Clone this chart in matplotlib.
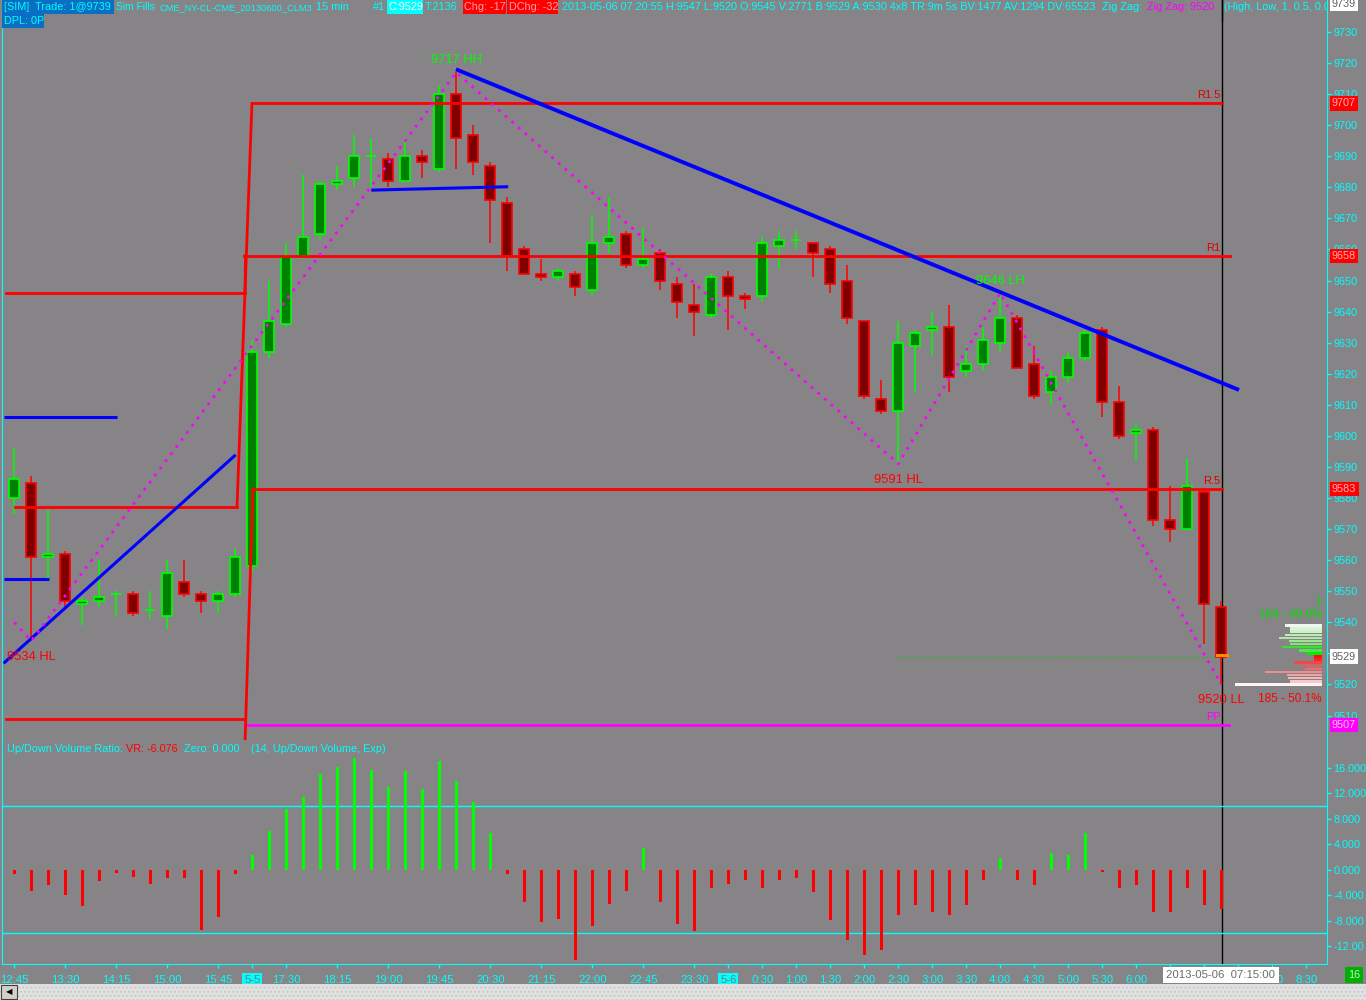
import matplotlib
matplotlib.use("Agg")
import matplotlib.pyplot as plt
from matplotlib.patches import Rectangle
from datetime import datetime, timedelta

plt.rcParams['font.family'] = ['Liberation Sans', 'DejaVu Sans']

# 15 min CL bars (prices in cents)
opens = [9580, 9585, 9561, 9562, 9546, 9547, 9549, 9549, 9544, 9542, 9553, 9549, 9547, 9549,
         9558, 9627, 9636, 9658, 9665, 9681, 9683, 9690, 9689, 9682, 9690, 9686, 9710, 9697,
         9687, 9675, 9660, 9652, 9651, 9652, 9647, 9662, 9665, 9655, 9659, 9649, 9642, 9639,
         9651, 9645, 9645, 9661, 9663, 9662, 9660, 9650, 9637, 9612, 9608, 9629, 9634, 9635,
         9621, 9623, 9630, 9638, 9623, 9614, 9619, 9625, 9634, 9611, 9601, 9602, 9573, 9570,
         9582, 9545]
highs = [9596, 9587, 9576, 9563, 9548, 9560, 9550, 9550, 9550, 9560, 9560, 9550, 9550, 9564,
         9631, 9650, 9662, 9684, 9682, 9687, 9697, 9696, 9691, 9696, 9692, 9713, 9717, 9700,
         9688, 9677, 9661, 9657, 9654, 9653, 9671, 9677, 9666, 9667, 9660, 9651, 9649, 9652,
         9653, 9646, 9664, 9666, 9666, 9662, 9661, 9655, 9637, 9618, 9637, 9634, 9640, 9642,
         9629, 9635, 9646, 9639, 9629, 9621, 9627, 9634, 9635, 9616, 9604, 9603, 9584, 9593,
         9583, 9547]
lows = [9575, 9534, 9554, 9545, 9539, 9545, 9542, 9542, 9541, 9538, 9548, 9543, 9543, 9548,
        9556, 9625, 9635, 9657, 9663, 9679, 9680, 9680, 9680, 9682, 9683, 9685, 9686, 9684,
        9662, 9653, 9652, 9650, 9650, 9645, 9645, 9659, 9654, 9654, 9647, 9638, 9632, 9638,
        9634, 9641, 9643, 9654, 9660, 9651, 9646, 9636, 9612, 9607, 9591, 9614, 9626, 9614,
        9619, 9621, 9627, 9622, 9612, 9610, 9617, 9624, 9606, 9599, 9592, 9571, 9566, 9570,
        9533, 9520]
closes = [9586, 9561, 9562, 9547, 9547, 9548, 9549, 9543, 9544, 9556, 9549, 9547, 9549, 9561,
          9627, 9637, 9658, 9664, 9681, 9682, 9690, 9690, 9682, 9690, 9688, 9710, 9696, 9688,
          9676, 9658, 9652, 9651, 9653, 9648, 9662, 9664, 9655, 9657, 9650, 9643, 9640, 9651,
          9645, 9644, 9662, 9663, 9663, 9659, 9649, 9638, 9613, 9608, 9630, 9633, 9635, 9619,
          9623, 9631, 9638, 9622, 9613, 9619, 9625, 9633, 9611, 9600, 9602, 9573, 9570, 9584,
          9546, 9529]

# Up/Down Volume Ratio
vol_ratio = [-0.7, -3.3, -2.4, -3.9, -5.7, -1.7, -0.5, -1.1, -2.3, -1.3, -1.3, -9.5, -7.5, -0.7,
             2.3, 6.0, 9.6, 11.4, 15.1, 16.1, 17.5, 15.7, 13.0, 15.5, 12.6, 17.0, 13.9, 10.6,
             5.8, -0.7, -5.1, -8.2, -7.8, -14.2, -8.8, -5.4, -3.3, 3.4, -5.1, -8.6, -9.7, -2.9,
             -2.2, -1.6, -2.9, -1.6, -1.3, -3.5, -7.9, -11.0, -13.4, -12.6, -7.1, -5.5, -6.6, -7.1,
             -5.5, -1.6, 1.8, -1.6, -2.4, 2.6, 2.3, 5.8, -0.4, -2.9, -2.4, -6.6, -6.6, -2.9,
             -5.5, -6.1]

# zig zag pivots (bar index, price)
zz_idx = [0, 1, 26, 52, 58, 71]
zz_val = [9540, 9534, 9717, 9591, 9646, 9520]
zz_tags = ['', 'HL', 'HH', 'HL', 'LH', 'LL']

# daily pivots
prev_levels = [9646, 9577, 9509]
prev_start = [-0.49, 0.04, -0.49]
prev_end = [13.57, 13.1, 13.57]
piv_names = ['R1.5', 'R1', 'R.5', 'PP']
piv_vals = [9707, 9658, 9583, 9507]
piv_start = [13.98, 13.51, 14.04, 13.57]
piv_end = [71.04, 71.5, 71.04, 71.45]
piv_colors = ['#ff0000', '#ff0000', '#ff0000', '#ff00ff']
piv_links = [(13.1, 9577, 13.98, 9707), (13.57, 9646, 13.6, 9658), (13.45, 9480, 14.04, 9583)]

# drawn trendlines (bar index, price, width)
trend_lines = [(-0.63, 9526.8, 13.02, 9593.9, 2.2),
               (25.98, 9718.0, 72.04, 9614.8, 2.8),
               (21.0, 9679.1, 29.05, 9680.2, 2.2),
               (-0.63, 9606.0, 6.06, 9606.0, 2.2),
               (-0.63, 9553.9, 2.06, 9553.9, 2.2)]

# volume profile of current bar
vp_prices = [9539, 9538, 9537, 9536, 9535, 9534, 9533, 9532, 9531, 9530,
             9529, 9528, 9527, 9526, 9525, 9524, 9523, 9522, 9521, 9520]
vp_vol = [37, 32, 32, 37, 43, 33, 32, 40, 23, 15, 8, 8, 28, 23, 17, 57, 35, 34, 32, 87]
vp_colors = ['#eef8ee', '#dcf4d6', '#cdf0c6', '#bdecb4', '#aee8a2', '#9ce690', '#8ae27c',
             '#2ee62e', '#46e846', '#00ee00', '#ff1010', '#ff2020', '#f04848', '#f05a5a',
             '#f06c6c', '#f08c8c', '#f2a4a4', '#f4b6b6', '#f6c8c8', '#fff2f2']

W, H = 1366, 1000
BG = '#868486'
CY = '#00ffff'
X0, BAR = 14.3, 17.0
FS = 7.8

fig = plt.figure(figsize=(W / 100, H / 100), dpi=100)
fig.patch.set_facecolor(BG)


def fx(x):
    return x / W


def fy(y):
    return 1 - y / H


ax_p = fig.add_axes([fx(2), fy(740), (1327 - 2) / W, 740 / H])
ax_i = fig.add_axes([fx(2), fy(964), (1327 - 2) / W, (964 - 740) / H], sharex=ax_p)
xlim = ((2 - X0) / BAR, (1327 - X0) / BAR)

for ax in (ax_p, ax_i):
    ax.set_facecolor(BG)
    for s in ax.spines.values():
        s.set_visible(False)
    ax.spines['right'].set_visible(True)
    ax.spines['left'].set_visible(True)
    ax.spines['right'].set_color(CY)
    ax.spines['left'].set_color(CY)
    ax.yaxis.tick_right()
    ax.tick_params(axis='y', colors=CY, labelcolor=CY, length=3, width=1, pad=1.5, labelsize=FS)
ax_i.spines['bottom'].set_visible(True)
ax_i.spines['bottom'].set_color(CY)
ax_p.set_xlim(*xlim)
ax_p.set_ylim(9730 - 708 / 3.107, 9730 + 32 / 3.107)
ax_i.set_ylim(-(964 - 869.7) / 6.37, (869.7 - 740) / 6.37)
ax_p.tick_params(axis='x', bottom=False, labelbottom=False)

ax_p.set_yticks(range(9510, 9731, 10))
ind_ticks = [16, 12, 8, 4, 0, -4, -8, -12]
ax_i.set_yticks(ind_ticks)
ax_i.set_yticklabels([('%.3f' % v)[:6] for v in ind_ticks])

# time axis
times = [datetime(2013, 5, 3, 12, 45) + timedelta(minutes=15 * i) for i in range(14)]
times += [datetime(2013, 5, 5, 17, 0) + timedelta(minutes=15 * k) for k in range(78 - 14)]
tick_idx = [0, 3, 6, 9, 12, 14, 16, 19, 22, 25, 28, 31, 34, 37, 40, 42] + list(range(44, 78, 2))
hidden = [68, 70, 72]  # covered by the cursor date box
tick_lbl = []
for i in tick_idx:
    t = times[i]
    if i in hidden:
        tick_lbl.append('')
    elif i == 14 or (t.hour == 0 and t.minute == 0):
        tick_lbl.append(f"{t.month}-{t.day}")
    else:
        tick_lbl.append(f"{t.hour}:{t.minute:02d}")
ax_i.set_xticks(tick_idx)
ax_i.set_xticklabels(tick_lbl)
ax_i.tick_params(axis='x', colors=CY, labelcolor=CY, length=3, width=1, pad=5, labelsize=8.2)
for lb in ax_i.get_xticklabels():
    if '-' in lb.get_text():
        lb.set_bbox(dict(fc=CY, ec='none', pad=1.2))
        lb.set_color('#7a7a7a')

# cursor line
for ax in (ax_p, ax_i):
    ax.axvline(71.02, color='black', lw=1, zorder=1)
fig.add_artist(plt.Line2D([fx(1221.6)] * 2, [fy(0), fy(20)], color='black', lw=1))

# candles
for i in range(len(opens)):
    o, h, l, c = opens[i], highs[i], lows[i], closes[i]
    up = c >= o
    edge = '#00ff00' if up else '#ff0000'
    face = '#008000' if up else '#800000'
    ax_p.plot([i, i], [l, h], color=edge, lw=1.1, zorder=3, solid_capstyle='butt')
    ax_p.add_patch(Rectangle((i - 0.29, min(o, c)), 0.58, abs(c - o), fc=face, ec=edge, lw=1.2, zorder=4))
ax_p.plot([70.72, 71.32], [9529.4, 9529.4], color='#ff8c00', lw=2.2, zorder=5)

# pivots
for lv, s, e in zip(prev_levels, prev_start, prev_end):
    ax_p.plot([s, e], [lv, lv], color='#ff0000', lw=2, zorder=6)
for nm, lv, s, e, col in zip(piv_names, piv_vals, piv_start, piv_end, piv_colors):
    ax_p.plot([s, e], [lv, lv], color=col, lw=2, zorder=6)
    ax_p.annotate(nm, (70.95, lv), xytext=(0, 3), textcoords='offset pixels', ha='right', va='bottom',
                  color='#e00000' if col == '#ff0000' else col, fontsize=8, zorder=7)
for a, b, c, d in piv_links:
    ax_p.plot([a, c], [b, d], color='#ff0000', lw=2, zorder=6)

# trendlines
for a, b, c, d, w in trend_lines:
    ax_p.plot([a, c], [b, d], color='#0000ff', lw=w, zorder=7, solid_capstyle='butt')

# zigzag
ax_p.plot(zz_idx, zz_val, color='#ff00ff', lw=2, linestyle=(0, (1, 2.2)), zorder=8)
for i, v, tag in zip(zz_idx, zz_val, zz_tags):
    if not tag:
        continue
    high = tag[1] == 'H'
    ax_p.annotate(f"{v} {tag}", (i, v), xytext=(0, 6 if high else -10), textcoords='offset pixels',
                  ha='center', va='bottom' if high else 'top', fontsize=9.3,
                  color='#00ff00' if high else '#ff0000', zorder=9)

# last price dotted
ax_p.plot([52, 71.3], [closes[-1], closes[-1]], color='#00d000', lw=0.9, linestyle=(0, (1, 2)), zorder=2)

# volume profile
vp_right = (1322 - X0) / BAR
for p, v, col in zip(vp_prices, vp_vol, vp_colors):
    ax_p.barh(p, v / BAR, left=vp_right - v / BAR, height=0.8, color=col, zorder=5)
ax_p.text(vp_right, 9546.5, '1', color='#00e000', ha='right', va='center', fontsize=8.5)
ax_p.text(vp_right, 9542.5, '184 - 49.9%', color='#00e000', ha='right', va='center', fontsize=8.5)
ax_p.text(vp_right, 9515.2, '185 - 50.1%', color='#ff0000', ha='right', va='center', fontsize=8.5)

# right axis value boxes
boxes = [(9739, 'white', '#606060'), (9707, '#ff0000', '#ffb0b0'), (9658, '#ff0000', '#ffb0b0'),
         (9583, '#ff0000', '#ffb0b0'), (closes[-1], 'white', '#606060'), (9507, '#ff00ff', '#ffc0ff')]
for val, fc, tc in boxes:
    ax_p.annotate(str(val), (1, val), xycoords=('axes fraction', 'data'), xytext=(5, 0),
                  textcoords='offset pixels', ha='left', va='center', color=tc, fontsize=FS,
                  bbox=dict(boxstyle='square,pad=0.2', fc=fc, ec='none'), zorder=10)

# indicator
cols = ['#00ff00' if v > 0 else '#ff0000' for v in vol_ratio]
ax_i.bar(range(len(vol_ratio)), vol_ratio, width=0.18, color=cols, zorder=3)
ax_i.axhline(10, color=CY, lw=1, zorder=2)
ax_i.axhline(-10, color=CY, lw=1, zorder=2)


def itext(x, y, s, color):
    ax_i.text(fx(x), fy(y), s, transform=fig.transFigure, color=color, fontsize=FS, ha='left', va='center')


itext(6.7, 749, 'Up/Down Volume Ratio:', CY)
itext(126, 749, 'VR: -6.076', '#ff0000')
itext(184, 749, 'Zero: 0.000', CY)
itext(251, 749, '(14, Up/Down Volume, Exp)', CY)


# header
def hrect(x0, y0, x1, y1, col):
    ax_p.add_patch(Rectangle((fx(x0), fy(y1)), (x1 - x0) / W, (y1 - y0) / H, transform=fig.transFigure,
                             fc=col, ec='none', zorder=20))


def htext(x, y, s, col, size=FS):
    ax_p.text(fx(x), fy(y), s, transform=fig.transFigure, color=col, fontsize=size, ha='left',
              va='center', clip_on=True, zorder=21)


hrect(0, 0, 114, 14, '#0a6fc2')
hrect(0, 14, 44, 28, '#0a6fc2')
hrect(387, 0, 423, 14, CY)
hrect(463, 0, 506, 14, '#ff0000')
hrect(507.5, 0, 558, 14, '#ff0000')
htext(3.5, 7.5, '[SIM]  Trade: 1@9739', CY)
htext(3.5, 21.5, 'DPL: 0P', CY)
htext(116, 7.5, 'Sim Fills', CY, size=7.4)
htext(159, 7.5, 'CME_NY-CL-CME_20130600_CLM3', CY, size=6.7)
htext(316, 7.5, '15 min', CY)
htext(373, 7.5, '#1', CY)
htext(388.5, 7.5, 'C:9529', 'white')
htext(425, 7.5, 'T:2136', CY)
htext(464, 7.5, 'Chg: -17', '#ffa0a0')
htext(509, 7.5, 'DChg: -32', '#ffa0a0')
htext(561.5, 7.5, '2013-05-06 07:20:55 H:9547 L:9520 O:9545 V:2771 B:9529 A:9530 4x8 TR:9m 5s '
      'BV:1477 AV:1294 DV:65523', CY)
htext(1102, 7.5, 'Zig Zag:', CY)
htext(1147, 7.5, 'Zig Zag: 9520', '#ff00ff')
htext(1223.5, 7.5, '(High, Low, 1, 0.5, 0.0)', CY)

# bottom widgets
fig.text(fx(1221), fy(975), '2013-05-06  07:15:00', color='#6a6a6a', fontsize=8.2, ha='center', va='center',
         bbox=dict(boxstyle='square,pad=0.3', fc='white', ec='none'), zorder=5)
fig.text(fx(1354), fy(975), '16', color='#b0ffb0', fontsize=FS, ha='center', va='center',
         bbox=dict(boxstyle='square,pad=0.3', fc='#00b000', ec='none'), zorder=5)
fig.add_artist(Rectangle((0, 0), 1, 16 / H, transform=fig.transFigure, fc='#e2e2e2', ec='#cacaca',
                         hatch='....', lw=0, zorder=4))
fig.add_artist(Rectangle((fx(1), fy(999)), 16 / W, 14 / H, transform=fig.transFigure, fc='#d4d0c8',
                         ec='#404040', lw=0.8, zorder=5))
fig.text(fx(9), fy(992), '\u25c0', color='black', fontsize=6, ha='center', va='center', zorder=6,
         family='DejaVu Sans')

fig.savefig('out.png', dpi=100, facecolor=BG)
